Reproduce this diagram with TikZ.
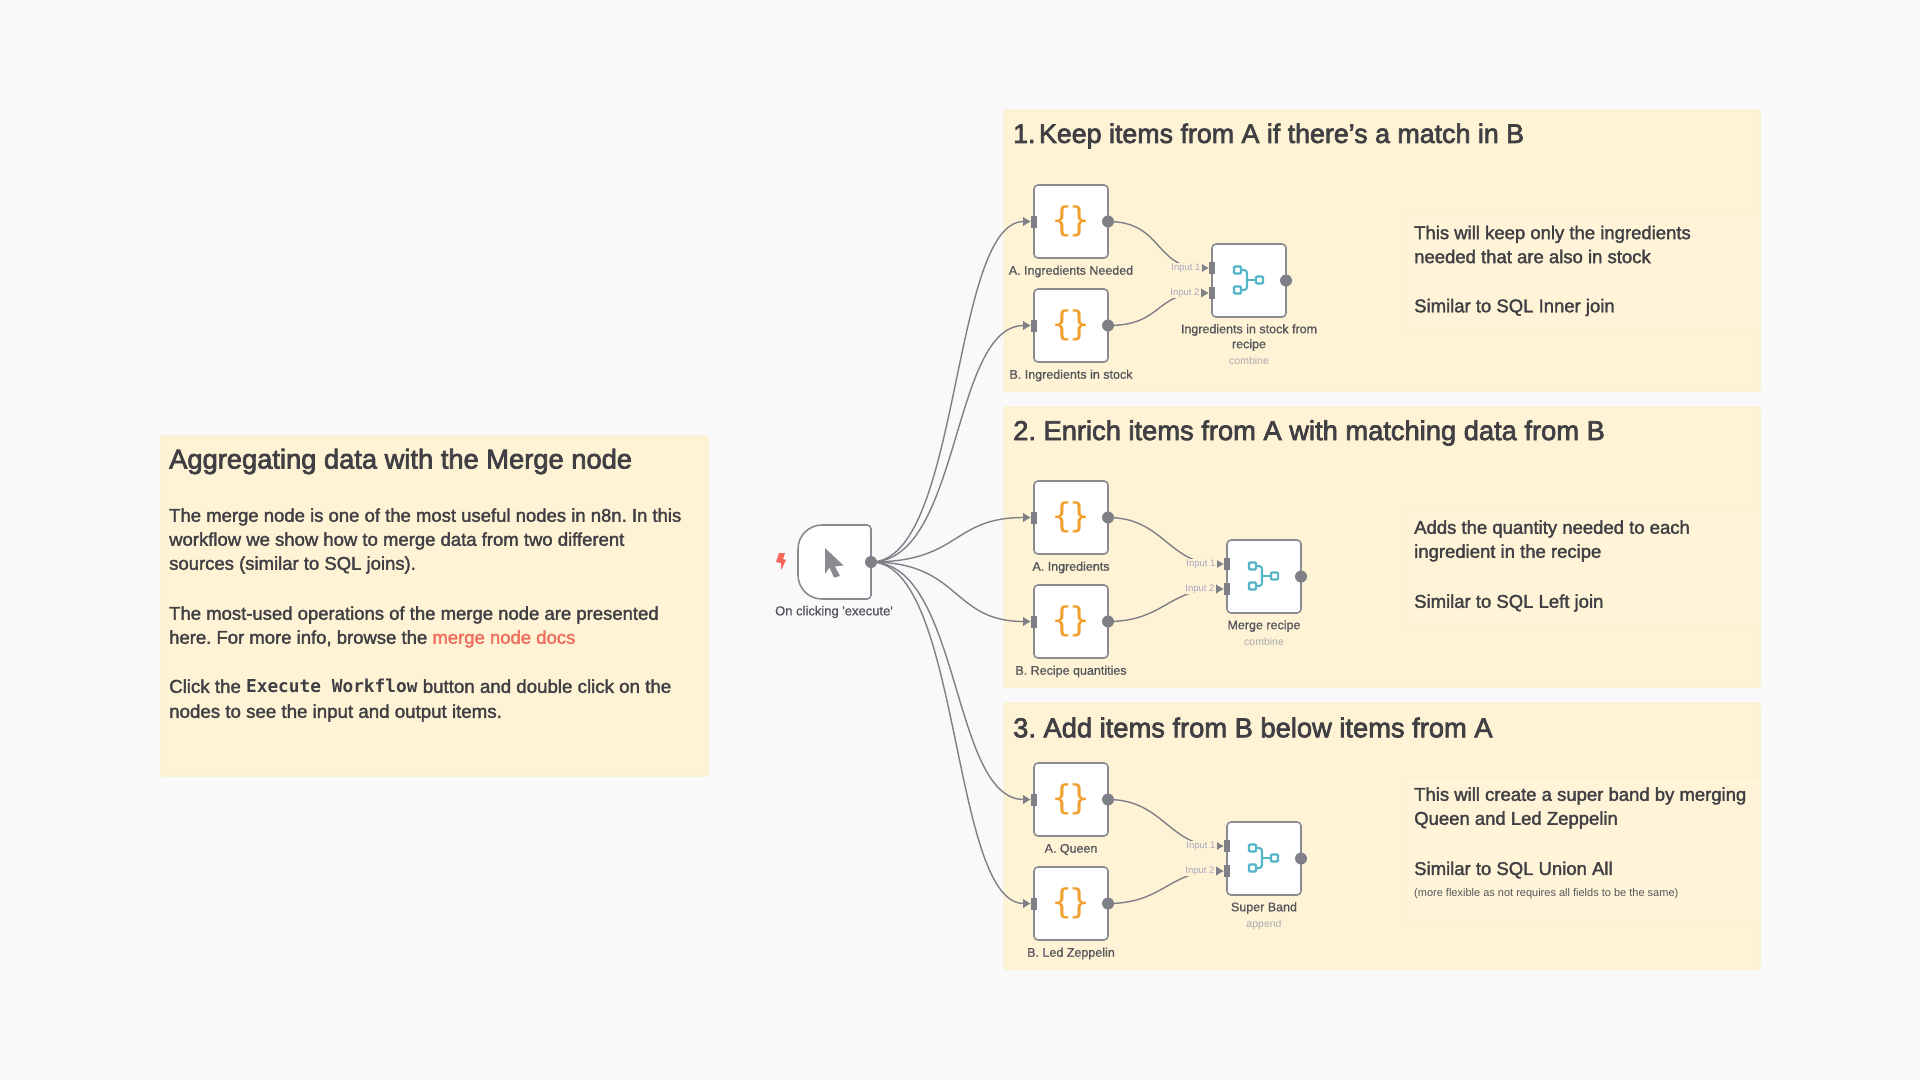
\documentclass[tikz,border=0pt]{standalone}
\usepackage{fontspec}
\usetikzlibrary{arrows.meta}
\setmainfont{Liberation Sans}[FakeBold=1.8]
\newfontfamily\headfont{Liberation Sans}[FakeBold=2.6]
\newfontfamily\lblfont{Liberation Sans}[FakeBold=0.8]
\newfontfamily\thinfont{Liberation Sans}
\newfontfamily\codefont{DejaVu Sans Mono Bold}
\newfontfamily\iconfont{DejaVu Sans Mono}
\definecolor{canvasbg}{HTML}{F9F9FA}
\definecolor{stickyfill}{HTML}{FFF3D5}
\definecolor{stickyline}{HTML}{FBEFC9}
\definecolor{innerfill}{HTML}{FFF4D8}
\definecolor{inktext}{HTML}{3F3F44}
\definecolor{nodeline}{HTML}{8A8A92}
\definecolor{portgrey}{HTML}{7F7F88}
\definecolor{labeltext}{HTML}{55555C}
\definecolor{subtext}{HTML}{ABABB0}
\definecolor{linktext}{HTML}{EE6F5E}
\definecolor{braceorange}{HTML}{EFA02F}
\definecolor{mergeteal}{HTML}{55B4C8}
\definecolor{inputlabel}{HTML}{A9A7C4}
\definecolor{boltred}{HTML}{F4665A}
\tikzset{
  sticky/.style={draw=stickyline,fill=stickyfill,line width=1pt,rounded corners=2pt},
  innersticky/.style={draw=stickyline,fill=innerfill,line width=1pt},
  wfbox/.style={draw=nodeline,fill=white,line width=1.6pt,rounded corners=4pt,minimum width=74pt,minimum height=73pt,inner sep=0pt,outer sep=0pt},
  outport/.style={circle,fill=portgrey,minimum size=12pt,inner sep=0pt,outer sep=0pt},
  inport/.style={rectangle,fill=portgrey,minimum width=6pt,minimum height=12pt,inner sep=0pt,outer sep=0pt},
  wire/.style={draw=portgrey,line width=1.4pt,-{Latex[length=8pt,width=10pt]}},
  titletext/.style={anchor=west,inner sep=0pt,text=inktext,font=\headfont\fontsize{27.3}{32}\selectfont},
  bodytext/.style={anchor=west,inner sep=0pt,text=inktext,align=left,font=\fontsize{18.5}{24}\selectfont},
  smallnote/.style={anchor=west,inner sep=0pt,text=labeltext,font=\thinfont\fontsize{11}{13}\selectfont},
  boxlabel/.style={inner sep=0pt,text=labeltext,align=center,font=\lblfont\fontsize{12.5}{15}\selectfont},
  sublabel/.style={inner sep=0pt,text=subtext,font=\thinfont\fontsize{10.5}{12}\selectfont},
  inputtag/.style={inner sep=1pt,fill=stickyfill,text=inputlabel,font=\thinfont\fontsize{9.5}{11}\selectfont},
}
\newcommand{\wfData}[4]{% name, x, y-top, label
  \node[wfbox,anchor=north west] (#1) at (#2,#3) {};
  \node[text=braceorange,inner sep=0pt,font=\iconfont\fontsize{34}{34}\selectfont] (#1-icon) at (#1.center) {\kern-1pt\{\kern-3pt\}};
  \node[outport] (#1-out) at (#1.east) {};
  \node[inport,anchor=east] (#1-in) at ([xshift=3pt]#1.west) {};
  \node[boxlabel] (#1-label) at ([yshift=-13.5pt]#1.south) {#4};
}
\newcommand{\wfMerge}[5]{% name, x, y-top, label, sub
  \node[wfbox,anchor=north west] (#1) at (#2,#3) {};
  \node[outport] (#1-out) at (#1.east) {};
  \node[inport,anchor=east] (#1-a) at ([xshift=3pt,yshift=12.5pt]#1.west) {};
  \node[inport,anchor=east] (#1-b) at ([xshift=3pt,yshift=-12.5pt]#1.west) {};
  \begin{scope}[shift={(#1.center)},line width=2.2pt]
    \draw[mergeteal,rounded corners=1pt] (-15,-14) rectangle (-8,-7);
    \draw[mergeteal,rounded corners=1pt] (-15,6) rectangle (-8,13);
    \draw[mergeteal,rounded corners=1pt] (7,-4) rectangle (14,3);
    \draw[mergeteal,rounded corners=3pt] (-8,-10.5) -- (-2,-10.5) -- (-2,9.5) -- (-8,9.5);
    \draw[mergeteal] (-2,-0.5) -- (7,-0.5);
  \end{scope}
  \node[boxlabel,anchor=north] (#1-label) at ([yshift=-7pt]#1.south) {#4};
  \node[sublabel,anchor=north] (#1-sub) at ([yshift=-6pt]#1-label.south) {#5};
}
\newcommand{\wfTags}[1]{%
  \node[inputtag] (#1-taga) at ([xshift=-26pt,yshift=12.5pt]#1.west) {Input 1};
  \node[inputtag] (#1-tagb) at ([xshift=-27pt,yshift=-12.5pt]#1.west) {Input 2};
}
\begin{document}
\frenchspacing
\begin{tikzpicture}[x=1pt,y=-1pt]
\useasboundingbox (0,0) rectangle (1920,1080);
\fill[canvasbg] (0,0) rectangle (1920,1080);

% stickies
\draw[sticky] (160,436) rectangle (708,776);
\draw[sticky] (1004,110) rectangle (1760,391);
\draw[sticky] (1004,407) rectangle (1760,687);
\draw[sticky] (1004,703) rectangle (1760,969);
\draw[innersticky] (1760,214) -- (1405,214) -- (1405,332) -- (1760,332);
\draw[innersticky] (1760,511) -- (1405,511) -- (1405,628) -- (1760,628);
\draw[innersticky] (1760,777) -- (1405,777) -- (1405,923) -- (1760,923);

% sticky texts
\node[titletext] (t0) at (169,461.5) {Aggregating data with the Merge node};
\node[bodytext] (p1) at (169,541) {The merge node is one of the most useful nodes in n8n. In this\\workflow we show how to merge data from two different\\sources (similar to SQL joins).};
\node[bodytext] (p2) at (169,627) {The most-used operations of the merge node are presented\\here. For more info, browse the \textcolor{linktext}{merge node docs}};
\node[bodytext,font=\fontsize{18.7}{25}\selectfont] (p3) at (169,700.5) {Click the {\codefont\fontsize{17.8}{25}\selectfont Execute Workflow} button and double click on the\\nodes to see the input and output items.};

\node[titletext,font=\headfont\fontsize{26.8}{32}\selectfont] (t1) at (1013,136) {1.\kern-4pt\ Keep items from A if there’s a match in B};
\node[titletext] (t2) at (1013,433) {2. Enrich items from A with matching data from B};
\node[titletext] (t3) at (1013,727.5) {3. Add items from B below items from A};

\node[bodytext] (n1a) at (1414,244.5) {This will keep only the ingredients\\needed that are also in stock};
\node[bodytext] (n1b) at (1414,307.5) {Similar to SQL Inner join};
\node[bodytext] (n2a) at (1414,541) {Adds the quantity needed to each\\ingredient in the recipe};
\node[bodytext] (n2b) at (1414,603) {Similar to SQL Left join};
\node[bodytext] (n3a) at (1414,808) {This will create a super band by merging\\Queen and Led Zeppelin};
\node[bodytext] (n3b) at (1414,870) {Similar to SQL Union All};
\node[smallnote] (n3c) at (1414,894) {(more flexible as not requires all fields to be the same)};

% trigger
\path[draw=nodeline,fill=white,line width=1.6pt] (798,549) .. controls (798,535.7) and (808.7,525) .. (822,525) -- (867,525) .. controls (869.2,525) and (871,526.8) .. (871,529) -- (871,595) .. controls (871,597.2) and (869.2,599) .. (867,599) -- (822,599) .. controls (808.7,599) and (798,588.3) .. (798,575) -- cycle;
\fill[nodeline] (825,548) -- (843.5,565.5) -- (835,566.5) -- (840,576) -- (834,577.5) -- (829.5,567.5) -- (825,574) -- cycle;
\fill[boltred] (779,553) -- (785,553) -- (783,559) -- (786,560) -- (781,570) -- (781,563) -- (776,562) -- cycle;
\node[outport] (trig-out) at (871,562) {};
\node[boxlabel,font=\lblfont\fontsize{13}{15}\selectfont] (trig-label) at (834,612) {On clicking 'execute'};

% workflow nodes
\wfData{a1}{1034}{185}{A. Ingredients Needed}
\wfData{b1}{1034}{289}{B. Ingredients in stock}
\wfMerge{m1}{1212}{244}{Ingredients in stock from\\recipe}{combine}
\wfData{a2}{1034}{481}{A. Ingredients}
\wfData{b2}{1034}{585}{B. Recipe quantities}
\wfMerge{m2}{1227}{540}{Merge recipe}{combine}
\wfData{a3}{1034}{763}{A. Queen}
\wfData{b3}{1034}{867}{B. Led Zeppelin}
\wfMerge{m3}{1227}{822}{Super Band}{append}

% connectors
\foreach \tgt in {a1,b1,a2,b2,a3,b3}{
  \draw[wire] (trig-out.center) .. controls +(90,0) and +(-80,0) .. (\tgt-in.west);
}
\draw[wire] (a1-out.center) .. controls +(55,0) and +(-55,0) .. (m1-a.west);
\draw[wire] (b1-out.center) .. controls +(55,0) and +(-55,0) .. (m1-b.west);
\draw[wire] (a2-out.center) .. controls +(55,0) and +(-55,0) .. (m2-a.west);
\draw[wire] (b2-out.center) .. controls +(55,0) and +(-55,0) .. (m2-b.west);
\draw[wire] (a3-out.center) .. controls +(55,0) and +(-55,0) .. (m3-a.west);
\draw[wire] (b3-out.center) .. controls +(55,0) and +(-55,0) .. (m3-b.west);
\wfTags{m1}
\wfTags{m2}
\wfTags{m3}
\end{tikzpicture}
\end{document}
